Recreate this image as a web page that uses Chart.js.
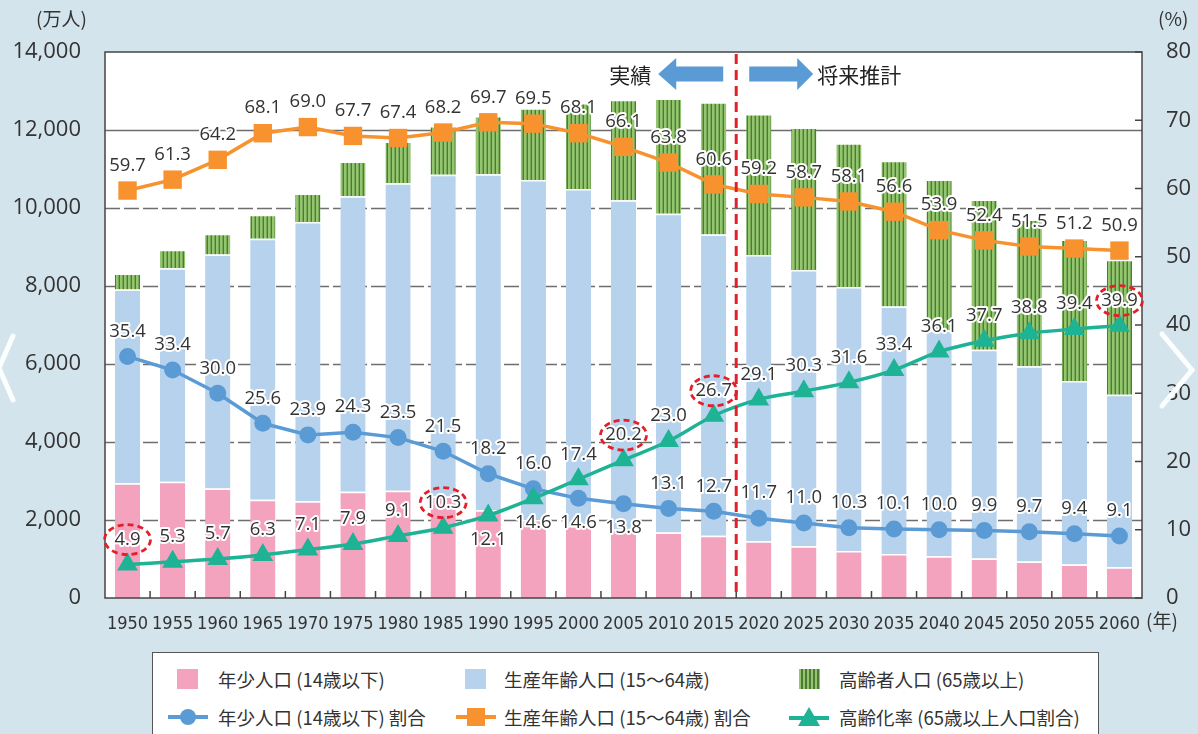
<!DOCTYPE html>
<html>
<head>
<meta charset="utf-8">
<script src="https://cdn.jsdelivr.net/npm/chart.js@4.4.1/dist/chart.umd.min.js"></script>
<style>
  html,body{margin:0;padding:0;background:#d4e4ec;}
  #wrap{position:relative;width:1198px;height:734px;overflow:hidden;background:#d4e4ec;}
  #c{position:absolute;left:0;top:0;}
  #legend{position:absolute;left:152px;top:652px;width:947px;height:92px;background:#fff;border:1.5px solid #555;box-sizing:border-box;
    font-family:"Noto Sans CJK JP","Noto Sans",sans-serif;font-size:18.5px;color:#333;}
  .it{position:absolute;white-space:nowrap;line-height:22px;}
  .sw{position:absolute;}
</style>
</head>
<body>
<div id="wrap">
  <canvas id="c" width="1198" height="734"></canvas>
  <div id="legend">
    <div class="sw" style="left:24px;top:16px;width:21px;height:20px;background:#f4a3bf"></div>
    <div class="it" style="left:65px;top:15px">年少人口 (14歳以下)</div>
    <div class="sw" style="left:312px;top:16px;width:21px;height:20px;background:#b7d2ec"></div>
    <div class="it" style="left:351px;top:15px">生産年齢人口 (15～64歳)</div>
    <div class="sw" style="left:646px;top:16px;width:21px;height:20px;background:repeating-linear-gradient(90deg,#93c66f 0 2.5px,#4e7a36 2.5px 4px)"></div>
    <div class="it" style="left:686px;top:15px">高齢者人口 (65歳以上)</div>

    <svg class="sw" style="left:14px;top:52px" width="42" height="24"><line x1="1" y1="12" x2="41" y2="12" stroke="#5b9bd5" stroke-width="4"/><circle cx="21" cy="12" r="8" fill="#5b9bd5"/></svg>
    <div class="it" style="left:65px;top:53px">年少人口 (14歳以下) 割合</div>
    <svg class="sw" style="left:302px;top:52px" width="42" height="24"><line x1="1" y1="12" x2="41" y2="12" stroke="#f7922e" stroke-width="4"/><rect x="12" y="3" width="18" height="18" fill="#f7922e"/></svg>
    <div class="it" style="left:351px;top:53px">生産年齢人口 (15～64歳) 割合</div>
    <svg class="sw" style="left:635px;top:52px" width="42" height="24"><line x1="1" y1="13" x2="41" y2="13" stroke="#1db394" stroke-width="4"/><polygon points="21,2 32,21 10,21" fill="#1db394"/></svg>
    <div class="it" style="left:686px;top:53px">高齢化率 (65歳以上人口割合)</div>
  </div>
</div>
<script>
// ---- data ----
const years = ['1950','1955','1960','1965','1970','1975','1980','1985','1990','1995','2000','2005','2010','2015','2020','2025','2030','2035','2040','2045','2050','2055','2060'];
// population (万人)
const youngPop   = [2943,2980,2807,2517,2482,2722,2751,2603,2249,2001,1847,1759,1680,1595,1457,1324,1204,1129,1073,1012,939,861,791];
const workingPop = [4966,5473,6000,6692,7157,7581,7883,8251,8614,8716,8638,8442,8173,7728,7341,7085,6773,6343,5787,5353,5001,4706,4418];
const agedPop    = [411,475,535,619,733,891,1072,1251,1498,1840,2208,2576,2953,3386,3612,3657,3685,3741,3868,3856,3768,3626,3464];
// ratios (%)
const youngPct   = [35.4,33.4,30.0,25.6,23.9,24.3,23.5,21.5,18.2,16.0,14.6,13.8,13.1,12.7,11.7,11.0,10.3,10.1,10.0,9.9,9.7,9.4,9.1];
const workingPct = [59.7,61.3,64.2,68.1,69.0,67.7,67.4,68.2,69.7,69.5,68.1,66.1,63.8,60.6,59.2,58.7,58.1,56.6,53.9,52.4,51.5,51.2,50.9];
const agedPct    = [4.9,5.3,5.7,6.3,7.1,7.9,9.1,10.3,12.1,14.6,17.4,20.2,23.0,26.7,29.1,30.3,31.6,33.4,36.1,37.7,38.8,39.4,39.9];
// axis ticks
const leftTicks  = [0,2000,4000,6000,8000,10000,12000,14000];
const rightTicks = [0,10,20,30,40,50,60,70,80];
// label placement
const belowLabels = {young:['2000','2005'], aged:['1990','1995']};
const circledAged = ['1950','1985','2005','2015','2060'];
const lastActual = '2015', firstProjection = '2020';

// ---- styles ----
const C_PINK='#f4a3bf', C_BLUE='#b7d2ec', C_YL='#5b9bd5', C_WK='#f7922e', C_AG='#1db394';
const NUM_FONT = "'Open Sans','Noto Sans',sans-serif";
const JP_FONT = "'Noto Sans CJK JP','Noto Sans',sans-serif";

const ctx0=document.getElementById('c').getContext('2d');
const greenPat = (function(){
  const p=document.createElement('canvas'); p.width=4; p.height=8;
  const g=p.getContext('2d');
  g.fillStyle='#93c66f'; g.fillRect(0,0,4,8);
  g.fillStyle='#4e7a36'; g.fillRect(2.6,0,1.4,8);
  return ctx0.createPattern(p,'repeat');
})();

const framePlugin = {
  id:'frame',
  beforeDraw(chart){
    const {ctx,chartArea:a}=chart;
    ctx.save();
    ctx.fillStyle='#d4e4ec'; ctx.fillRect(0,0,chart.width,chart.height);
    ctx.fillStyle='#fff'; ctx.fillRect(a.left,a.top,a.right-a.left,a.bottom-a.top);
    // grid
    const y=chart.scales.y;
    ctx.strokeStyle='#6e6e6e'; ctx.lineWidth=1.3;
    leftTicks.forEach(v=>{
      if(v===0||v===14000) return;
      ctx.setLineDash(v===12000?[]:[15,4]);
      const py=Math.round(y.getPixelForValue(v))+0.5;
      ctx.beginPath(); ctx.moveTo(a.left,py); ctx.lineTo(a.right,py); ctx.stroke();
    });
    ctx.restore();
  },
  afterDatasetsDraw(chart){
    const {ctx,chartArea:a,scales}=chart;
    const x=scales.x, y1=scales.y1;
    ctx.save();
    // frame
    ctx.strokeStyle='#444'; ctx.lineWidth=1.5; ctx.setLineDash([]);
    ctx.strokeRect(a.left,a.top,a.right-a.left,a.bottom-a.top);
    // x boundary ticks (inward)
    for(let i=0;i<years.length-1;i++){
      const bx=(x.getPixelForValue(i)+x.getPixelForValue(i+1))/2;
      ctx.beginPath(); ctx.moveTo(bx,a.bottom); ctx.lineTo(bx,a.bottom-7); ctx.stroke();
    }
    // right axis inward ticks
    rightTicks.forEach(v=>{
      const py=y1.getPixelForValue(v);
      ctx.beginPath(); ctx.moveTo(a.right,py); ctx.lineTo(a.right-7,py); ctx.stroke();
    });
    // divider
    const i1=years.indexOf(lastActual), i2=years.indexOf(firstProjection);
    const bx=(x.getPixelForValue(i1)+x.getPixelForValue(i2))/2;
    ctx.strokeStyle='#e3202a'; ctx.lineWidth=3; ctx.setLineDash([10,6]);
    ctx.beginPath(); ctx.moveTo(bx,a.top+2); ctx.lineTo(bx,a.bottom); ctx.stroke();
    ctx.setLineDash([]);
    // arrows
    const ay=a.top+22;
    ctx.fillStyle='#5b9bd5';
    ctx.beginPath();
    ctx.moveTo(bx-13,ay-7.5); ctx.lineTo(bx-60,ay-7.5); ctx.lineTo(bx-60,ay-16); ctx.lineTo(bx-78,ay);
    ctx.lineTo(bx-60,ay+16); ctx.lineTo(bx-60,ay+7.5); ctx.lineTo(bx-13,ay+7.5); ctx.closePath(); ctx.fill();
    ctx.beginPath();
    ctx.moveTo(bx+13,ay-7.5); ctx.lineTo(bx+61,ay-7.5); ctx.lineTo(bx+61,ay-16); ctx.lineTo(bx+77,ay);
    ctx.lineTo(bx+61,ay+16); ctx.lineTo(bx+61,ay+7.5); ctx.lineTo(bx+13,ay+7.5); ctx.closePath(); ctx.fill();
    ctx.fillStyle='#222'; ctx.font='21px '+JP_FONT; ctx.textBaseline='middle';
    ctx.textAlign='right'; ctx.fillText('実績',bx-85,ay+1);
    ctx.textAlign='left'; ctx.fillText('将来推計',bx+81,ay+1);

    // data labels
    ctx.font='18.5px '+NUM_FONT; ctx.textAlign='center'; ctx.textBaseline='middle';
    ctx.lineJoin='round';
    const groups=[{idx:3,key:'working',vals:workingPct},{idx:4,key:'young',vals:youngPct},{idx:5,key:'aged',vals:agedPct}];
    groups.forEach(g=>{
      const meta=chart.getDatasetMeta(g.idx);
      meta.data.forEach((pt,i)=>{
        const below=(belowLabels[g.key]||[]).includes(years[i]);
        const ly=pt.y+(below?24:-25);
        const txt=g.vals[i].toFixed(1);
        ctx.strokeStyle='#fff'; ctx.lineWidth=4; ctx.strokeText(txt,pt.x,ly);
        ctx.fillStyle='#333'; ctx.fillText(txt,pt.x,ly);
        if(g.key==='aged' && circledAged.includes(years[i])){
          ctx.save();
          ctx.strokeStyle='#e3202a'; ctx.lineWidth=2.8; ctx.setLineDash([6,4]);
          ctx.beginPath(); ctx.ellipse(pt.x,ly,23,15,0,0,Math.PI*2); ctx.stroke();
          ctx.restore();
        }
      });
    });
    ctx.restore();
  },
  afterDraw(chart){
    const {ctx}=chart;
    ctx.save();
    ctx.fillStyle='#333'; ctx.font='19px '+JP_FONT; ctx.textBaseline='middle';
    ctx.textAlign='left';
    ctx.fillText('(万人)',36,19);
    ctx.fillText('(%)',1158,19);
    ctx.fillText('(年)',1146,621);
    // carousel chevrons
    ctx.strokeStyle='rgba(255,255,255,0.95)'; ctx.lineWidth=5; ctx.lineCap='round';
    ctx.beginPath(); ctx.moveTo(13,336); ctx.lineTo(-1,368); ctx.lineTo(13,400); ctx.stroke();
    ctx.beginPath(); ctx.moveTo(1162,334); ctx.lineTo(1192,370); ctx.lineTo(1162,406); ctx.stroke();
    ctx.restore();
  }
};

const barCommon = {type:'bar', stack:'pop', yAxisID:'y', order:10, barPercentage:0.56, categoryPercentage:1,
  borderColor:'#fff', borderWidth:{top:1.5,left:0,right:0,bottom:0}, borderSkipped:false};

new Chart(document.getElementById('c'), {
  data:{
    labels:years,
    datasets:[
      Object.assign({label:'年少人口（14歳以下）', data:youngPop, backgroundColor:C_PINK}, barCommon),
      Object.assign({label:'生産年齢人口（15～64歳）', data:workingPop, backgroundColor:C_BLUE}, barCommon),
      Object.assign({label:'高齢者人口（65歳以上）', data:agedPop, backgroundColor:greenPat}, barCommon),
      {type:'line', label:'生産年齢人口（15～64歳）割合', data:workingPct, yAxisID:'y1', order:3,
        borderColor:C_WK, backgroundColor:C_WK, borderWidth:3.5, pointStyle:'rect', pointRadius:13, pointHoverRadius:13, pointBorderWidth:0, tension:0},
      {type:'line', label:'年少人口（14歳以下）割合', data:youngPct, yAxisID:'y1', order:2,
        borderColor:C_YL, backgroundColor:C_YL, borderWidth:3.5, pointStyle:'circle', pointRadius:8.5, pointHoverRadius:8.5, pointBorderWidth:0, tension:0},
      {type:'line', label:'高齢化率（65歳以上人口割合）', data:agedPct, yAxisID:'y1', order:1,
        borderColor:C_AG, backgroundColor:C_AG, borderWidth:3.5, pointStyle:'triangle', pointRadius:12, pointHoverRadius:12, pointBorderWidth:0, tension:0.3}
    ]
  },
  options:{
    responsive:false, animation:false,
    layout:{padding:{top:52,bottom:96,left:0,right:0}},
    plugins:{legend:{display:false}, tooltip:{enabled:false}},
    scales:{
      x:{stacked:true, offset:true, grid:{display:false}, border:{display:false},
        ticks:{color:'#333', padding:8, maxRotation:0, autoSkip:false,
          font:{family:"'Liberation Sans Narrow','DejaVu Sans Condensed',sans-serif", size:18}},
        afterFit(s){s.height=40;}},
      y:{stacked:true, position:'left', min:0, max:14000,
        afterBuildTicks(s){s.ticks=leftTicks.map(v=>({value:v}));},
        grid:{display:false}, border:{display:false},
        ticks:{color:'#333', padding:16, font:{family:NUM_FONT,size:22},
          callback:v=>Number(v).toLocaleString('en-US')},
        afterFit(s){s.width=105;}},
      y1:{position:'right', min:0, max:80,
        afterBuildTicks(s){s.ticks=rightTicks.map(v=>({value:v}));},
        grid:{display:false}, border:{display:false},
        ticks:{color:'#333', padding:16, font:{family:NUM_FONT,size:22}},
        afterFit(s){s.width=56;}}
    }
  },
  plugins:[framePlugin]
});
</script>
</body>
</html>
